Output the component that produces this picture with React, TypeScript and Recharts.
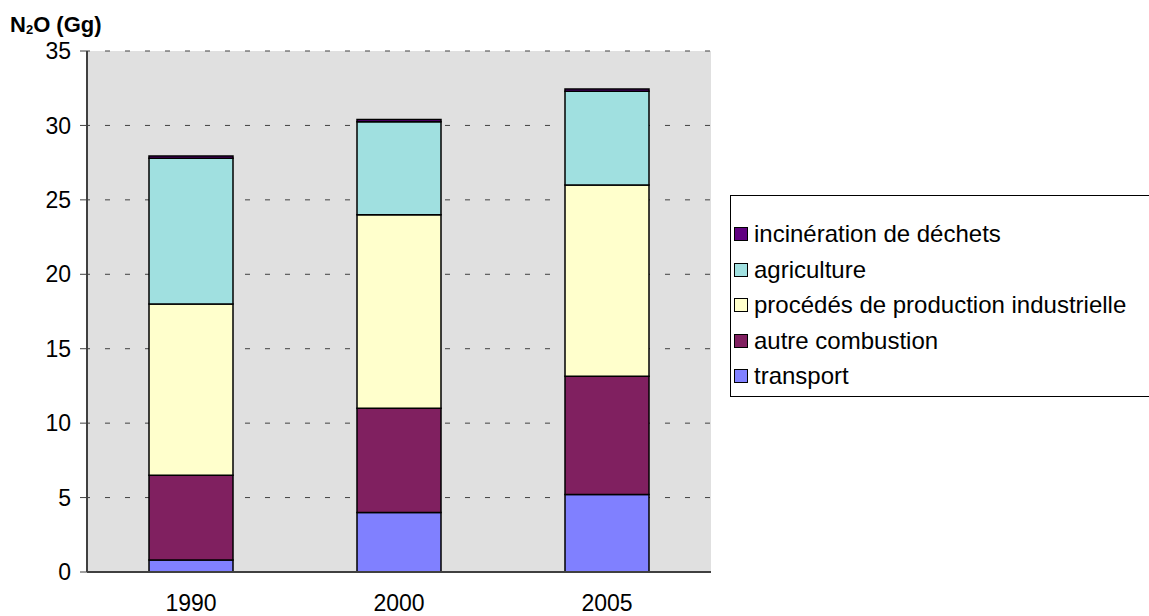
import React from "react";
import {
  Bar,
  BarChart,
  CartesianGrid,
  Legend,
  XAxis,
  YAxis,
} from "recharts";

const years = ["1990", "2000", "2005"];

const transport = [0.8, 4.0, 5.2];
const autreCombustion = [5.7, 7.0, 7.95];
const procedes = [11.5, 13.0, 12.85];
const agriculture = [9.8, 6.25, 6.3];
const incineration = [0.15, 0.15, 0.15];

const yTicks = [0, 5, 10, 15, 20, 25, 30, 35];

const series = [
  { key: "transport", label: "transport", color: "#8080FF", values: transport },
  { key: "autre", label: "autre combustion", color: "#802060", values: autreCombustion },
  { key: "procedes", label: "procédés de production industrielle", color: "#FFFFCC", values: procedes },
  { key: "agriculture", label: "agriculture", color: "#A0E0E0", values: agriculture },
  { key: "incineration", label: "incinération de déchets", color: "#600080", values: incineration },
];

const data = years.map((year, i) => {
  const row: Record<string, number | string> = { year };
  series.forEach((s) => {
    row[s.key] = s.values[i];
  });
  return row;
});

const font = "'Liberation Sans', Arial, sans-serif";
const axisColor = "#404040";
const tickSize = 23;

// legend listed top-down, stack order reversed
function LegendBox() {
  const items = [...series].reverse();
  return (
    <div
      style={{
        position: "absolute",
        left: 730,
        top: 195,
        width: 430,
        height: 202,
        border: "1px solid #000",
        background: "#fff",
        fontFamily: font,
        fontSize: 24,
        color: "#000",
        boxSizing: "border-box",
      }}
    >
      {items.map((s, i) => (
        <div
          key={s.key}
          style={{
            position: "absolute",
            left: 3,
            top: 24 + i * 35.5,
            height: 28,
            display: "flex",
            alignItems: "center",
            whiteSpace: "nowrap",
          }}
        >
          <span
            style={{
              display: "inline-block",
              width: 12,
              height: 12,
              background: s.color,
              border: "1px solid #000",
              marginRight: 6,
            }}
          />
          <span>{s.label}</span>
        </div>
      ))}
    </div>
  );
}

export default function App() {
  return (
    <div
      style={{
        position: "absolute",
        left: 0,
        top: 0,
        width: 1149,
        height: 616,
        background: "#fff",
        overflow: "hidden",
        fontFamily: font,
      }}
    >
      <div
        style={{
          position: "absolute",
          left: 10,
          top: 14,
          fontSize: 22,
          fontWeight: "bold",
          lineHeight: "22px",
          color: "#000",
          whiteSpace: "nowrap",
        }}
      >
        N<span style={{ fontSize: 13, position: "relative", top: 2 }}>2</span>O (Gg)
      </div>
      <BarChart
        width={1149}
        height={616}
        data={data}
        margin={{ top: 51, right: 438, bottom: 0, left: 0 }}
        barSize={84}
      >
        <CartesianGrid
          horizontal
          vertical={false}
          fill="#E0E0E0"
          stroke="#404040"
          strokeDasharray="5 15"
          strokeDashoffset={2}
        />
        <XAxis
          dataKey="year"
          height={44}
          tickLine={false}
          tickSize={0}
          tickMargin={23}
          axisLine={{ stroke: axisColor, strokeWidth: 2 }}
          tick={{ fontSize: tickSize, fill: "#000", fontFamily: font }}
        />
        <YAxis
          width={87}
          domain={[0, 35]}
          ticks={yTicks}
          interval={0}
          tickSize={7}
          tickMargin={9}
          axisLine={{ stroke: axisColor, strokeWidth: 2 }}
          tickLine={{ stroke: axisColor }}
          tick={{ fontSize: tickSize, fill: "#000", fontFamily: font }}
        />
        <YAxis
          yAxisId="frame"
          orientation="right"
          width={0}
          domain={[0, 35]}
          tick={false}
          tickLine={false}
          axisLine={{ stroke: "#A0A0A0", strokeWidth: 3 }}
        />
        {series.map((s) => (
          <Bar
            key={s.key}
            dataKey={s.key}
            name={s.label}
            stackId="n2o"
            fill={s.color}
            stroke="#000"
            strokeWidth={1.5}
            isAnimationActive={false}
          />
        ))}
        <Legend content={() => null} />
      </BarChart>
      <LegendBox />
    </div>
  );
}
